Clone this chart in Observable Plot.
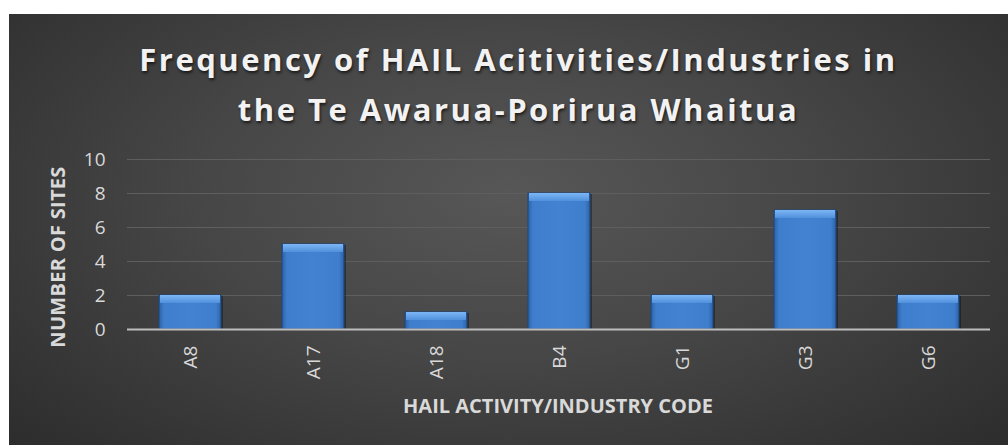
<!DOCTYPE html>
<html><head><meta charset="utf-8">
<script src="https://cdn.jsdelivr.net/npm/d3@7"></script>
<script src="https://cdn.jsdelivr.net/npm/@observablehq/plot@0.6"></script>
<style>
body{margin:0;background:#fff;}
#wrap{position:absolute;left:9px;top:14px;width:999px;height:431px;overflow:hidden;
  background:radial-gradient(ellipse 70% 85% at 50% 42%, #575757 0%, #464646 45%, #2c2c2c 100%);}
#title{position:absolute;left:20px;width:979px;top:20px;text-align:center;font-family:"Open Sans";font-weight:700;
  font-size:31px;line-height:50px;letter-spacing:2.5px;color:#f2f2f2;text-shadow:1px 2px 3px rgba(0,0,0,0.65);}
#xlab{position:absolute;left:549px;top:378px;transform:translateX(-50%);white-space:nowrap;font-family:"Open Sans";
  font-weight:700;font-size:20px;color:#d9d9d9;}
#ylab{position:absolute;left:48px;top:243px;transform:translate(-50%,-50%) rotate(-90deg);white-space:nowrap;
  font-family:"Open Sans";font-weight:700;font-size:20px;letter-spacing:0.3px;color:#d9d9d9;}
#chart{position:absolute;left:0;top:0;}
</style></head>
<body>
<div id="wrap">
  <div id="chart"></div>
  <div id="title">Frequency of HAIL Acitivities/Industries in<br>the Te Awarua-Porirua Whaitua</div>
  <div id="ylab">NUMBER OF SITES</div>
  <div id="xlab">HAIL ACTIVITY/INDUSTRY CODE</div>
</div>
<script>
const codes = ["A8", "A17", "A18", "B4", "G1", "G3", "G6"];
const counts = [2, 5, 1, 8, 2, 7, 2];
const yTicks = [0, 2, 4, 6, 8, 10];
const gridTicks = [2, 4, 6, 8, 10];

const data = codes.map((c, i) => ({code: c, count: counts[i]}));

const chart = Plot.plot({
  width: 999,
  height: 431,
  marginTop: 145,
  marginBottom: 116,
  marginLeft: 118,
  marginRight: 18,
  style: {background: "transparent", color: "#d9d9d9", fontFamily: "Open Sans", fontSize: "19px", overflow: "visible"},
  x: {domain: codes, paddingInner: 0.5, paddingOuter: 0.25, label: null},
  y: {domain: [0, 10], label: null},
  marks: [
    Plot.ruleY(gridTicks, {stroke: "#5e5e5e", strokeWidth: 1.2}),
    Plot.barY(data, {x: "code", y: "count", fill: "#000", fillOpacity: 0.35, dx: 2, dy: 1}),
    Plot.barY(data, {x: "code", y: "count", fill: "url(#barSide)", stroke: "#1c4680", strokeWidth: 1}),
    Plot.barY(data, {x: "code", y1: "count", y2: "count", insetBottom: -8, insetLeft: 1, insetRight: 1, fill: "url(#barTop)"}),
    Plot.ruleY([0], {stroke: "#bdbdbd", strokeWidth: 2}),
    Plot.axisY({ticks: yTicks, tickSize: 0, tickPadding: 22, fontSize: 19, label: null}),
    Plot.axisX({tickSize: 0, tickPadding: 16, tickRotate: -90, fontSize: 19, label: null})
  ]
});

const svgSel = d3.select(chart);
svgSel.selectAll("g[aria-label='y-axis tick label'], g[aria-label='x-axis tick label']").attr("font-size", 19);
const defs = svgSel.insert("defs", ":first-child");
const sideGrad = defs.append("linearGradient").attr("id", "barSide").attr("x1", 0).attr("x2", 1).attr("y1", 0).attr("y2", 0);
[["0%", "#2c62a6"], ["8%", "#3e7ecc"], ["50%", "#4282d0"], ["92%", "#3e7ecc"], ["100%", "#2c62a6"]]
  .forEach(([o, c]) => sideGrad.append("stop").attr("offset", o).attr("stop-color", c));
const topGrad = defs.append("linearGradient").attr("id", "barTop").attr("x1", 0).attr("x2", 0).attr("y1", 0).attr("y2", 1);
[["0%", "#7db6f5"], ["100%", "#5090dc"]]
  .forEach(([o, c]) => topGrad.append("stop").attr("offset", o).attr("stop-color", c));

document.getElementById("chart").appendChild(chart);
</script>
</body></html>
